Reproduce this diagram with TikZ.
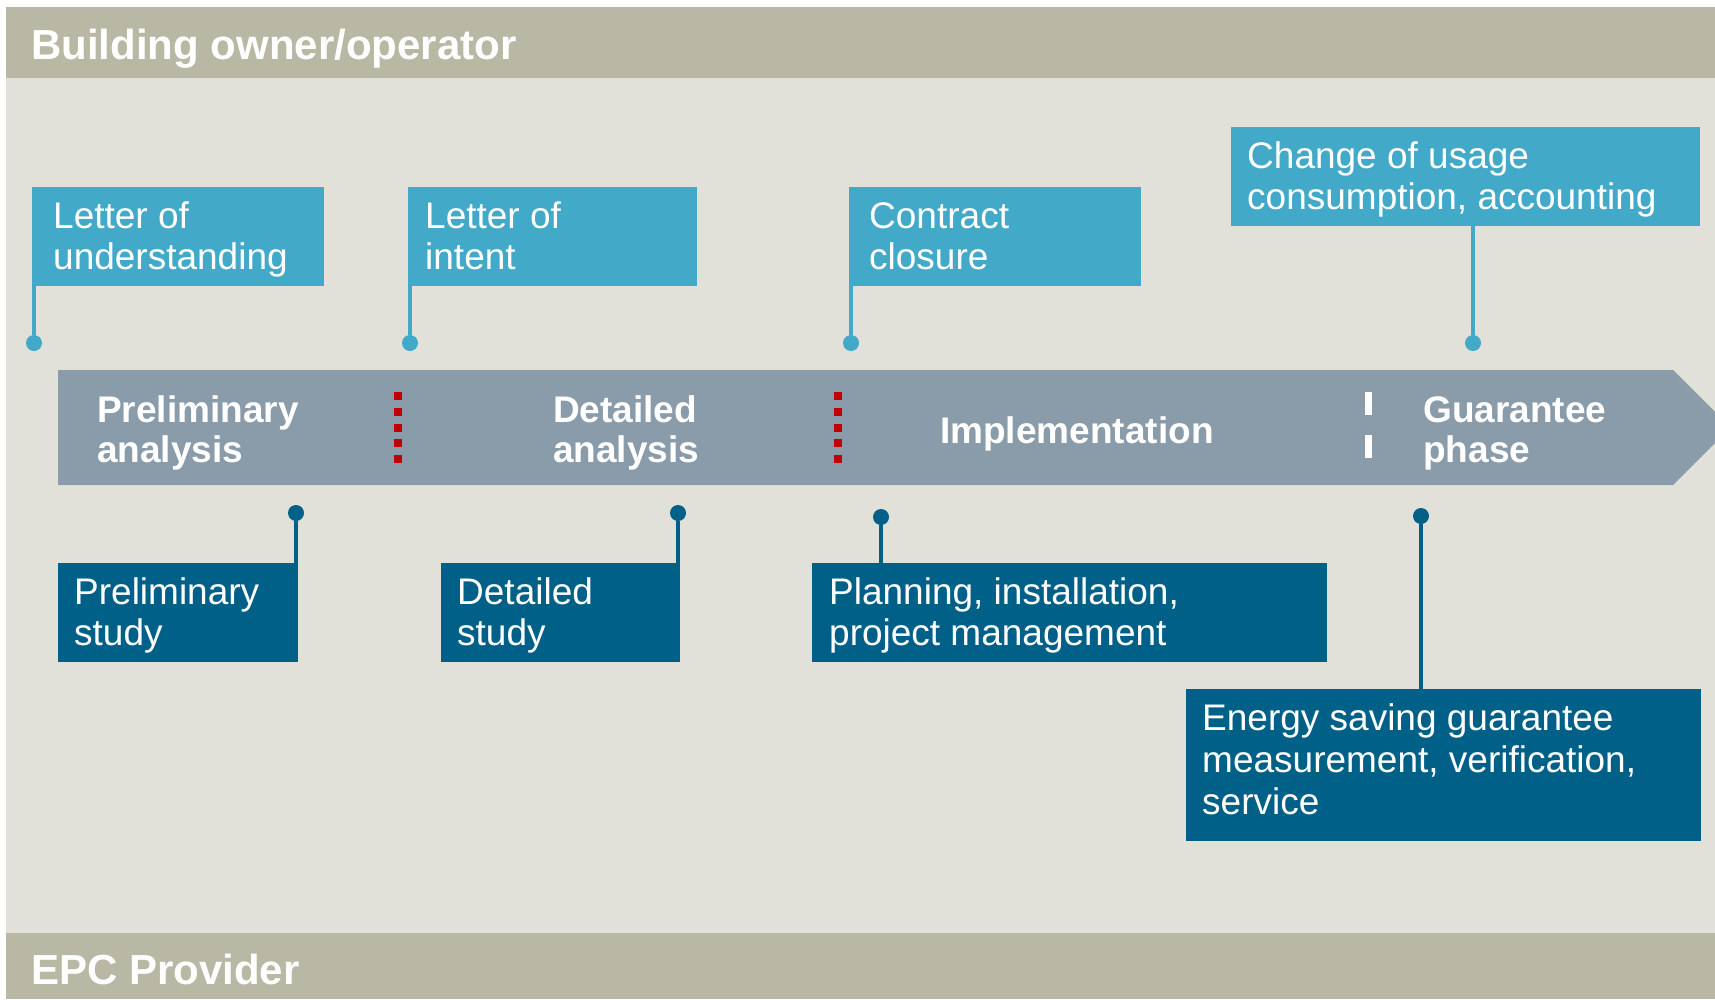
\documentclass[tikz,border=0pt]{standalone}
\usepackage{fontspec}
\setmainfont{Liberation Sans}

\definecolor{bandgray}{HTML}{B9B8A5}
\definecolor{canvas}{HTML}{E1E1D9}
\definecolor{phasebar}{HTML}{8A9BAA}
\definecolor{lightblue}{HTML}{43A9C9}
\definecolor{darkblue}{HTML}{006088}
\definecolor{gatered}{HTML}{C00000}

% left-aligned lines whose reference point is the baseline of the first line
\newcommand\stacklines[2][41.5pt]{\vtop{\baselineskip=#1\relax\lineskiplimit=-100pt\halign{##\hfil\cr#2\crcr}}}

\tikzset{
  upbox/.style={fill=lightblue, inner sep=0pt, anchor=north west},
  lowbox/.style={fill=darkblue, inner sep=0pt, anchor=north west},
  boxtext/.style={anchor=base west, inner sep=0pt, text=white,
    font=\fontsize{37}{41.5}\selectfont},
  phasetext/.style={anchor=base west, inner sep=0pt, text=white,
    font=\fontsize{37}{40}\selectfont\bfseries},
  bandtext/.style={anchor=base west, inner sep=0pt, text=white,
    font=\fontsize{42}{46}\selectfont\bfseries},
  updot/.style={circle, fill=lightblue, minimum size=16pt, inner sep=0pt},
  lowdot/.style={circle, fill=darkblue, minimum size=16pt, inner sep=0pt},
  upconn/.style={draw=lightblue, line width=4pt},
  lowconn/.style={draw=darkblue, line width=4pt},
  gate/.style={draw=gatered, line width=8pt, dash pattern=on 8pt off 7.75pt},
  softgate/.style={draw=white, line width=7pt, dash pattern=on 23pt off 20pt},
}

\begin{document}
\begin{tikzpicture}[x=1pt, y=-1pt]
  \useasboundingbox (0,0) rectangle (1715,999);
  \clip (0,0) rectangle (1715,999);

  % background and role bands
  \fill[white] (0,0) rectangle (1715,999);
  \fill[canvas] (6,78) rectangle (1715,933);
  \fill[bandgray] (6,7) rectangle (1715,78);
  \fill[bandgray] (6,933) rectangle (1715,999);
  \node[bandtext] (owner) at (31,59) {Building owner/operator};
  \node[bandtext] (provider) at (31,984) {EPC Provider};

  % phase arrow
  \fill[phasebar] (58,370) -- (1673,370) -- (1730.5,427.5) -- (1673,485) -- (58,485) -- cycle;
  \node[phasetext] (prelim) at (97,422) {\stacklines[40pt]{Preliminary\cr analysis}};
  \node[phasetext] (detail) at (553,422) {\stacklines[40pt]{Detailed\cr analysis}};
  \node[phasetext] (impl) at (940,443) {Implementation};
  \node[phasetext] (guar) at (1423,422) {\stacklines[40pt]{Guarantee\cr phase}};

  % phase gates
  \draw[gate] (398,392) -- (398,463);
  \draw[gate] (838,392) -- (838,463);
  \draw[softgate] (1368.5,392) -- (1368.5,458);

  % owner milestones
  \node[upbox, minimum width=292pt, minimum height=99pt] (lou) at (32,187) {};
  \node[boxtext] (loutext) at (53,228) {\stacklines{Letter of\cr understanding}};
  \node[updot] (loudot) at (34,343) {};
  \draw[upconn] (loudot) -- (loudot |- lou.south);

  \node[upbox, minimum width=289pt, minimum height=99pt] (loi) at (408,187) {};
  \node[boxtext] (loitext) at (425,228) {\stacklines{Letter of\cr intent}};
  \node[updot] (loidot) at (410,343) {};
  \draw[upconn] (loidot) -- (loidot |- loi.south);

  \node[upbox, minimum width=292pt, minimum height=99pt] (cc) at (849,187) {};
  \node[boxtext] (cctext) at (869,228) {\stacklines{Contract\cr closure}};
  \node[updot] (ccdot) at (851,343) {};
  \draw[upconn] (ccdot) -- (ccdot |- cc.south);

  \node[upbox, minimum width=469pt, minimum height=99pt] (cou) at (1231,127) {};
  \node[boxtext] (coutext) at (1247,168) {\stacklines{Change of usage\cr consumption, accounting}};
  \node[updot] (coudot) at (1473,343) {};
  \draw[upconn] (coudot) -- (coudot |- cou.south);

  % provider services
  \node[lowbox, minimum width=240pt, minimum height=99pt] (ps) at (58,563) {};
  \node[boxtext] (pstext) at (74,604) {\stacklines{Preliminary\cr study}};
  \node[lowdot] (psdot) at (296,513) {};
  \draw[lowconn] (psdot) -- (psdot |- ps.north);

  \node[lowbox, minimum width=239pt, minimum height=99pt] (ds) at (441,563) {};
  \node[boxtext] (dstext) at (457,604) {\stacklines{Detailed\cr study}};
  \node[lowdot] (dsdot) at (678,513) {};
  \draw[lowconn] (dsdot) -- (dsdot |- ds.north);

  \node[lowbox, minimum width=515pt, minimum height=99pt] (pim) at (812,563) {};
  \node[boxtext] (pimtext) at (829,604) {\stacklines{Planning, installation,\cr project management}};
  \node[lowdot] (pimdot) at (881,517) {};
  \draw[lowconn] (pimdot) -- (pimdot |- pim.north);

  \node[lowbox, minimum width=515pt, minimum height=152pt] (esg) at (1186,689) {};
  \node[boxtext] (esgtext) at (1202,730) {\stacklines[42pt]{Energy saving guarantee\cr measurement, verification,\cr service}};
  \node[lowdot] (esgdot) at (1421,516) {};
  \draw[lowconn] (esgdot) -- (esgdot |- esg.north);
\end{tikzpicture}
\end{document}
